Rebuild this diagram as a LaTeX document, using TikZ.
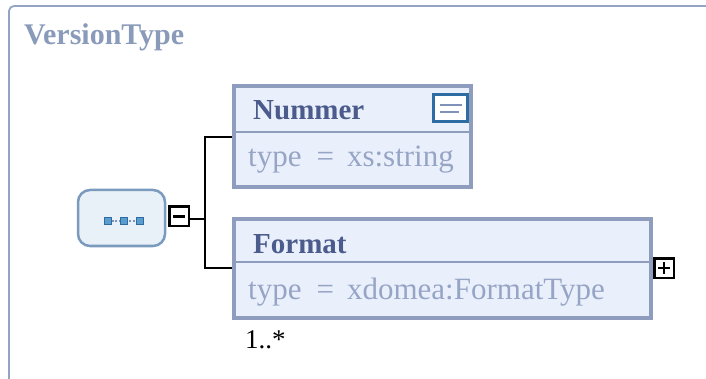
\documentclass[tikz,border=0pt]{standalone}
\usepackage{fontspec}
\setmainfont{Liberation Serif}
\definecolor{frame}{HTML}{95A4C4}
\definecolor{boxborder}{HTML}{8E9DBE}
\definecolor{boxfill}{HTML}{EAF0FB}
\definecolor{headtext}{HTML}{4B5B8C}
\definecolor{typetext}{HTML}{96A5C6}
\definecolor{titletext}{HTML}{8A9BBA}
\definecolor{seqborder}{HTML}{7B9BBE}
\definecolor{seqfill}{HTML}{E8F0F8}
\definecolor{iconblue}{HTML}{2E6DA4}
\definecolor{iconline}{HTML}{7F93BA}
\definecolor{dotblue}{HTML}{5A9CCB}
\begin{document}
\begin{tikzpicture}[x=1pt,y=-1pt,
  elbox/.style={draw=boxborder,line width=4pt,fill=boxfill,rectangle,inner sep=0pt},
  headlbl/.style={anchor=base west,inner sep=0pt,text=headtext,font=\fontsize{29}{29}\selectfont\bfseries},
  typelbl/.style={anchor=base west,inner sep=0pt,text=typetext,font=\fontsize{31}{31}\selectfont},
  togglebox/.style={draw=black,line width=2.5pt,fill=white,rectangle,inner sep=0pt,minimum width=19.5pt,minimum height=19.5pt},
  conn/.style={draw=black,line width=2.5pt},
  seqdot/.style={draw=iconblue,fill=dotblue,line width=1.2pt,rectangle,inner sep=0pt,minimum size=6.5pt}]
\useasboundingbox (0,0) rectangle (706,379);
% outer frame
\draw[frame,line width=1.8pt,rounded corners=5pt] (9,390) -- (9,6) -- (720,6);
\node[anchor=base west,inner sep=0pt,text=titletext,font=\fontsize{30}{30}\selectfont\bfseries] (title) at (24,45) {VersionType};
% sequence node
\node[draw=seqborder,fill=seqfill,line width=2.5pt,rounded corners=12pt,rectangle,minimum width=87pt,minimum height=56pt,inner sep=0pt] (seq) at (121.5,218) {};
\draw[iconline,line width=1.5pt,dash pattern=on 2pt off 1.5pt] (108,221) -- (140,221);
\node[seqdot] (d1) at (108,221) {};
\node[seqdot] (d2) at (124,221) {};
\node[seqdot] (d3) at (140,221) {};
% minus toggle
\node[togglebox] (minus) at (179,216.5) {};
\draw[black,line width=2.5pt] ([xshift=-6pt]minus.center) -- ([xshift=6pt]minus.center);
% Nummer box
\node[elbox,minimum width=237pt,minimum height=101pt] (num) at (352.5,136.5) {};
\draw[boxborder,line width=2.5pt] (234,132) -- (471,132);
\node[headlbl] (numhead) at (253,120) {Nummer};
\node[typelbl] (numtype) at (248,167) {type\hspace{15pt}=\hspace{13pt}xs:string};
% equals icon
\node[draw=iconblue,line width=2.5pt,fill=white,rectangle,inner sep=0pt,minimum width=34pt,minimum height=27pt] (eq) at (450.5,108) {};
\draw[iconline,line width=2pt] (440,105.5) -- (462,105.5) (440,112) -- (459,112);
% Format box
\node[elbox,minimum width=417pt,minimum height=99pt] (fmt) at (442.5,268.5) {};
\draw[boxborder,line width=2.5pt] (234,262) -- (651,262);
\node[headlbl] (fmthead) at (253,253) {Format};
\node[typelbl] (fmttype) at (248,299) {type\hspace{15pt}=\hspace{13pt}xdomea:FormatType};
\node[anchor=base west,inner sep=0pt,font=\fontsize{27}{27}\selectfont] (card) at (245,348) {1..*};
% plus toggle
\node[togglebox] (plus) at (664,268) {};
\draw[black,line width=2.5pt] ([xshift=-6pt]plus.center) -- ([xshift=6pt]plus.center) ([yshift=-6pt]plus.center) -- ([yshift=6pt]plus.center);
% connectors
\coordinate (j) at (205,219);
\coordinate (jn) at (205,137);
\coordinate (jf) at (205,268);
\draw[conn] (minus.east |- j) -- (j);
\draw[conn] (num.west |- jn) -- (jn) -- (jf) -- (fmt.west |- jf);
\end{tikzpicture}
\end{document}
